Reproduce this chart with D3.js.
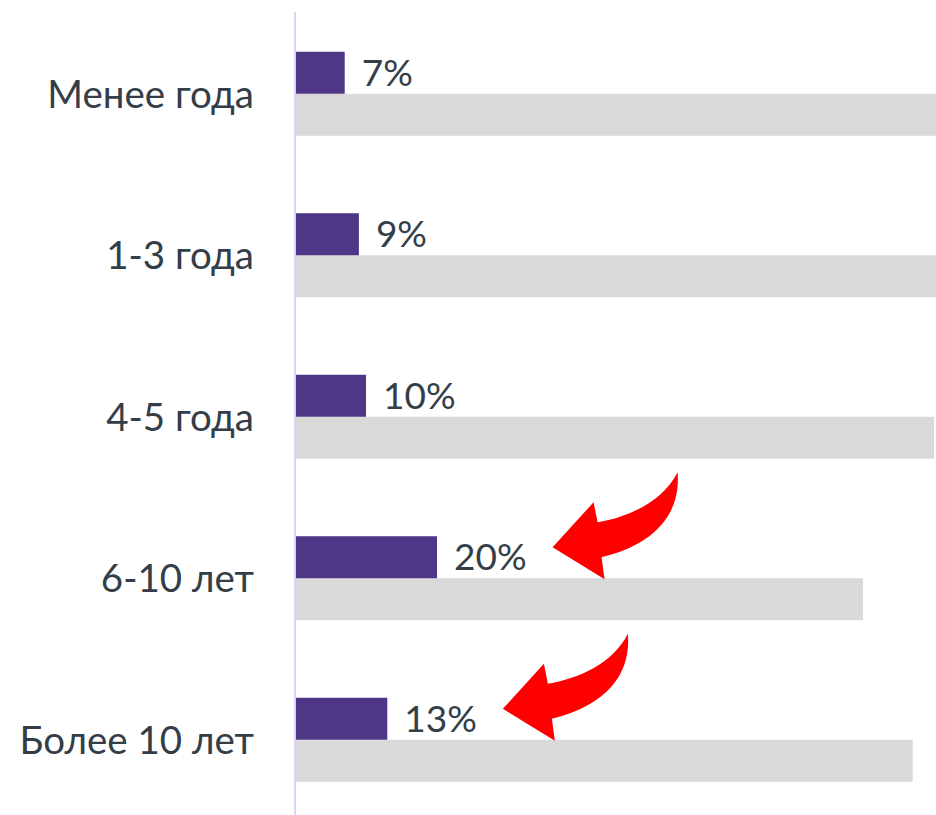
<!DOCTYPE html>
<html lang="ru">
<head>
  <meta charset="UTF-8">
  <title>Стаж</title>
  <script src="https://d3js.org/d3.v7.min.js"></script>
  <style>
    body { margin: 0; background: #fff; }
    svg { display: block; font-family: Lato, "Open Sans", sans-serif; }
  </style>
</head>
<body>
  <div id="chart"></div>
  <script>
    const categories = ["Менее года", "1-3 года", "4-5 года", "6-10 лет", "Более 10 лет"];
    const values = [7, 9, 10, 20, 13];          // фиолетовые столбцы, %
    const rest = [93, 91, 90, 80, 87];          // серые столбцы, %
    const highlighted = ["6-10 лет", "Более 10 лет"]; // красные стрелки

    const W = 936, H = 815;
    const x0 = 295;

    const svg = d3.select("#chart").append("svg")
      .attr("width", W).attr("height", H);

    const x = d3.scaleLinear().domain([0, 100]).range([x0, x0 + 710]);
    const y = d3.scaleBand().domain(categories).range([13, 820.5]);
    const barH = 42;

    // вертикальная ось
    svg.append("line")
      .attr("x1", x0).attr("x2", x0)
      .attr("y1", 12).attr("y2", H)
      .attr("stroke", "#ddd5f0").attr("stroke-width", 2);

    const rows = svg.selectAll(".row")
      .data(categories)
      .enter().append("g")
      .attr("class", "row")
      .attr("transform", d => `translate(0,${y(d) + y.bandwidth() / 2})`);

    rows.append("rect")
      .attr("x", x(0) + 1)
      .attr("y", 0)
      .attr("width", (d, i) => x(rest[i]) - x(0) - 1)
      .attr("height", barH)
      .attr("fill", "#d9d9d9");

    rows.append("rect")
      .attr("x", x(0) + 1)
      .attr("y", -barH)
      .attr("width", (d, i) => x(values[i]) - x(0) - 1)
      .attr("height", barH)
      .attr("fill", "#4f3787");

    rows.append("text")
      .attr("x", 254)
      .attr("y", 14)
      .attr("text-anchor", "end")
      .attr("fill", "#333e48")
      .style("font-size", "38.5px")
      .text(d => d);

    const labels = rows.append("text")
      .attr("x", (d, i) => x(values[i]) + 17)
      .attr("y", -8)
      .attr("fill", "#333e48")
      .style("font-size", "37px")
      .text((d, i) => values[i] + "%");

    // изогнутая стрелка, кончик в (0,0)
    const arrowPath = "M0,0 L41,-45 L45,-25 C75,-30 110,-45 125,-75 C128,-40 110,-5 49,10 L52,32 Z";

    labels.each(function(d) {
      if (!highlighted.includes(d)) return;
      const bb = this.getBBox();
      const tipX = bb.x + bb.width + 26;
      d3.select(this.parentNode).append("path")
        .attr("d", arrowPath)
        .attr("transform", `translate(${tipX},-31)`)
        .attr("fill", "#ff0000");
    });
  </script>
</body>
</html>
